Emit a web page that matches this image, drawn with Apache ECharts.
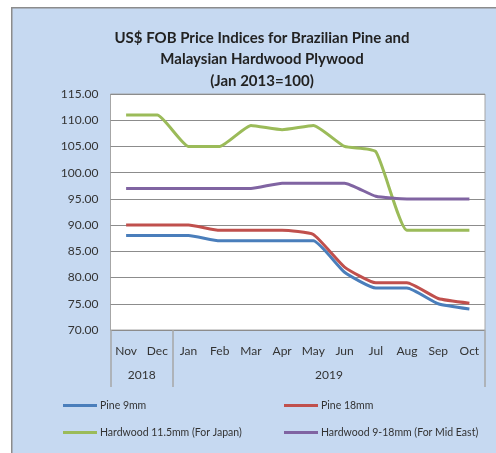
<!DOCTYPE html>
<html>
<head>
<meta charset="utf-8">
<script src="https://cdn.jsdelivr.net/npm/echarts@6/dist/echarts.min.js"></script>
<style>
html,body{margin:0;padding:0;background:#fff;}
#c{width:496px;height:453px;}
</style>
</head>
<body>
<div id="c"></div>
<script>
const months = ['Nov','Dec','Jan','Feb','Mar','Apr','May','Jun','Jul','Aug','Sep','Oct'];
const yearGroups = [['2018', 2], ['2019', 10]];
const pine9 = [88, 88, 88, 87, 87, 87, 87, 81, 78, 78, 75, 74];
const pine18 = [90, 90, 90, 89, 89, 89, 88.2, 82, 79, 79, 76, 75.1];
const hard115 = [111, 111, 105, 105, 109, 108.2, 109, 105, 104, 89, 89, 89];
const hard918 = [97, 97, 97, 97, 97, 98, 98, 98, 95.5, 95, 95, 95];
const seriesNames = ['Pine 9mm', 'Pine 18mm', 'Hardwood 11.5mm (For Japan)', 'Hardwood 9-18mm (For Mid East)'];
const yTicks = {min: 70, max: 115, step: 5};

// year axis: half-month slots (boundaryGap false, 2 slots per month)
const slots = months.length * 2 + 1;
const yearLabels = new Array(slots).fill('');
const sepIdx = [0];
let start = 0;
yearGroups.forEach(([y, n]) => {
  yearLabels[start * 2 + n] = y;
  start += n;
  sepIdx.push(start * 2);
});

const colors = ['#4a7ebb', '#c0504d', '#9bbb59', '#8064a2'];
const font = 'Lato, "Open Sans", sans-serif';
const chart = echarts.init(document.getElementById('c'), null, {renderer: 'canvas'});
const mk = (name, data, i) => ({
  name, type: 'line', data, smooth: 0.15, symbol: 'none',
  xAxisIndex: 0,
  lineStyle: {width: 3, color: colors[i]}, itemStyle: {color: colors[i]}
});
const legendCommon = {
  orient: 'vertical', itemWidth: 34, itemHeight: 3, itemGap: 16, icon: 'rect',
  textStyle: {fontFamily: font, fontSize: 10.5, color: '#333', padding: [0, 0, 0, -2]}
};
chart.setOption({
  animation: false,
  backgroundColor: '#fff',
  graphic: [{
    type: 'rect', z: -10, left: 11, top: 7,
    shape: {width: 600, height: 600},
    style: {fill: '#c6d9f1', stroke: '#8c8c8c', lineWidth: 1.5}
  }],
  title: {
    text: 'US$ FOB Price Indices for Brazilian Pine and\nMalaysian Hardwood Plywood\n(Jan 2013=100)',
    left: 257, top: 22, textAlign: 'center',
    textStyle: {fontFamily: font, fontSize: 15, fontWeight: 'bold', color: '#222', lineHeight: 21.5}
  },
  legend: [
    Object.assign({left: 58, top: 395, data: [seriesNames[0], seriesNames[2]]}, legendCommon),
    Object.assign({left: 279, top: 395, data: [seriesNames[1], seriesNames[3]]}, legendCommon)
  ],
  grid: {
    left: 110.5, right: 11, top: 94, bottom: 123,
    show: true, backgroundColor: '#fff', borderColor: '#a6a6a6', borderWidth: 1
  },
  xAxis: [{
    type: 'category', data: months, boundaryGap: true,
    axisLine: {show: false}, axisTick: {show: false},
    axisLabel: {fontFamily: font, fontSize: 12, color: '#333', margin: 15, interval: 0}
  }, {
    type: 'category', data: yearLabels, boundaryGap: false, position: 'bottom',
    axisLine: {show: false},
    axisTick: {show: true, length: 57, interval: (i) => sepIdx.includes(i),
      lineStyle: {color: '#a6a6a6', width: 1.5}},
    axisLabel: {fontFamily: font, fontSize: 12, color: '#333', margin: 39,
      interval: (i) => yearLabels[i] !== ''}
  }],
  yAxis: {
    type: 'value', min: yTicks.min, max: yTicks.max, interval: yTicks.step,
    axisLine: {show: false}, axisTick: {show: false},
    splitLine: {lineStyle: {color: '#8c8c8c', width: 1}},
    axisLabel: {fontFamily: font, fontSize: 12, color: '#333', margin: 12,
      formatter: (v) => v.toFixed(2)}
  },
  series: [
    mk(seriesNames[0], pine9, 0),
    mk(seriesNames[1], pine18, 1),
    mk(seriesNames[2], hard115, 2),
    mk(seriesNames[3], hard918, 3)
  ]
});
</script>
</body>
</html>
